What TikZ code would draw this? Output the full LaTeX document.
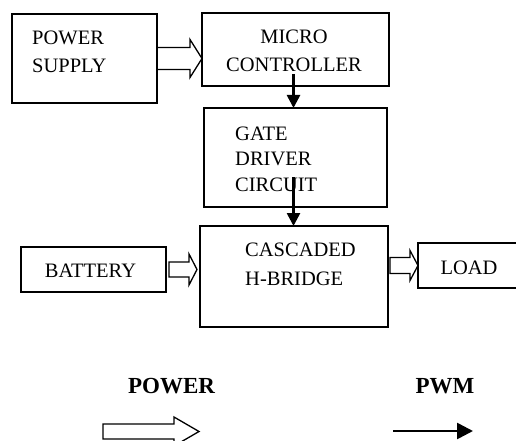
\documentclass[tikz,border=0pt]{standalone}
\usepackage{fontspec}
\setmainfont{Liberation Serif}
\usetikzlibrary{arrows.meta,calc}

\tikzset{
  blk/.style={draw, line width=1.4pt, inner sep=0pt, outer sep=0pt},
  lbl/.style={inner sep=0pt, font=\fontsize{20.5}{28}\selectfont},
  key/.style={inner sep=0pt, font=\fontsize{23}{28}\selectfont\bfseries},
  pwm/.style={line width=2.6pt, -{Triangle[length=13pt,width=13pt]}},
}

% hollow block arrow: from, to, shaft half-width, head half-width, head length
\newcommand{\powarrow}[5]{%
  \draw[line width=1.3pt, line join=miter] let \p1=(#1), \p2=(#2) in
    (\x1,\y1+#3) -- (\x2-#5,\y1+#3) -- (\x2-#5,\y1+#4) -- (\x2,\y1)
    -- (\x2-#5,\y1-#4) -- (\x2-#5,\y1-#3) -- (\x1,\y1-#3) -- cycle;}

\begin{document}
\begin{tikzpicture}[x=1pt, y=-1pt]
	\useasboundingbox (0,0) rectangle (516,441);
	% blocks
	\node[blk, minimum width=145pt, minimum height=89pt] (ps) at (84.5,58.5) {};
	\node[blk, minimum width=187pt, minimum height=73pt] (mc) at (295.5,49.5) {};
	\node[blk, minimum width=183pt, minimum height=99pt] (gd) at (295.5,157.5) {};
	\node[blk, minimum width=188pt, minimum height=101pt] (ch) at (294,276.5) {};
	\node[blk, minimum width=145pt, minimum height=45pt] (bat) at (93.5,269.5) {};
	\node[blk, minimum width=104pt, minimum height=45pt] (ld) at (470,265.5) {};
	% texts
	\node[lbl, anchor=west, align=left] (psT) at (32,52) {POWER\\SUPPLY};
	\node[lbl, align=center] (mcT) at (294,51) {MICRO\\CONTROLLER};
	\node[lbl, anchor=west, align=left, font=\fontsize{20.5}{25.7}\selectfont] (gdT) at (235,159.3) {GATE\\DRIVER\\CIRCUIT};
	\node[lbl, anchor=west, align=left, font=\fontsize{20.5}{29}\selectfont] (chT) at (245,264.5) {CASCADED\\H-BRIDGE};
	\node[lbl] (batT) at (90.5,270.5) {BATTERY};
	\node[lbl] (ldT) at (469,267.5) {LOAD};
	% power flow
	\powarrow{ps.east}{mc.west}{11pt}{19pt}{12pt}
	\powarrow{[xshift=3pt]bat.east}{[xshift=-3pt]ch.west}{7.5pt}{15.5pt}{8pt}
	\powarrow{[xshift=2pt]ch.east |- ld.west}{ld.west}{8pt}{15pt}{8pt}
	% pwm signals
	\draw[pwm] ([xshift=-2pt, yshift=12pt]mc.south) -- ([xshift=-2pt]gd.north);
	\draw[pwm] ([xshift=-2pt, yshift=30pt]gd.south) -- ([xshift=-2pt]gd.south |- ch.north);
	% legend
	\node[key] (powT) at (171.5,386.5) {POWER};
	\node[key] (pwmT) at (445,386.5) {PWM};
	\coordinate (powL) at (103,431.5);
	\coordinate (powR) at (199,431.5);
	\powarrow{powL}{powR}{7.5pt}{14.5pt}{25pt}
	\coordinate (pwmL) at (393,431);
	\coordinate (pwmR) at (473,431);
	\draw[pwm, -{Triangle[length=16pt,width=16pt]}] (pwmL) -- (pwmR);
\end{tikzpicture}
\end{document}
